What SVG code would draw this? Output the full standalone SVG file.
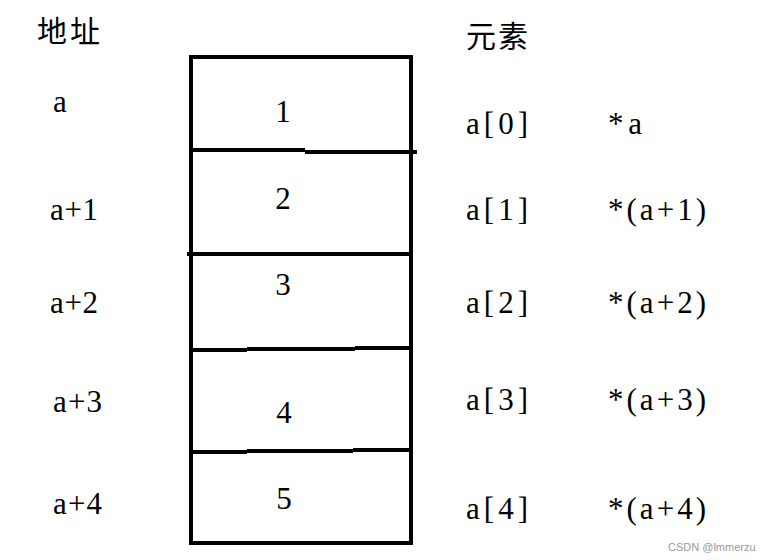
<svg xmlns="http://www.w3.org/2000/svg" width="777" height="560" viewBox="0 0 777 560">
<style>
.t{font-family:"Liberation Serif","Times New Roman",serif;font-size:31px;fill:#000}
.c{font-family:"Noto Sans CJK SC",sans-serif;font-size:30px;fill:#000}
.n{text-anchor:middle}
.ln{stroke:#000;stroke-width:4;fill:none}
.wm{font-family:"Liberation Sans",Arial,sans-serif;font-size:11px;fill:#999}
</style>
<rect width="777" height="560" fill="#fff"/>
<g id="headers">
<text class="c" x="37" y="42" textLength="63">地址</text>
<text class="c" x="466" y="47" textLength="62">元素</text>
</g>
<g id="array">
<rect class="ln" x="191" y="57" width="220" height="486"/>
</g>
<g id="dividers">
<path class="ln" d="M193 150 H305 M305 152 H417"/>
<path class="ln" d="M187 254 H411"/>
<path class="ln" d="M191 350 H247 M247 349 H355 M355 348 H411"/>
<path class="ln" d="M191 452 H247 M247 451 H353 M353 450 H411"/>
</g>
<g id="cell1"><text class="t n" x="283" y="122">1</text></g>
<g id="cell2"><text class="t n" x="283" y="209">2</text></g>
<g id="cell3"><text class="t n" x="283" y="295">3</text></g>
<g id="cell4"><text class="t n" x="284" y="423">4</text></g>
<g id="cell5"><text class="t n" x="284" y="509">5</text></g>
<g id="addresses">
<text class="t" x="53" y="112">a</text>
<text class="t" x="50" y="220" textLength="48">a+1</text>
<text class="t" x="50" y="313" textLength="48">a+2</text>
<text class="t" x="53" y="412" textLength="49">a+3</text>
<text class="t" x="53" y="514" textLength="49">a+4</text>
</g>
<g id="elements">
<text class="t" x="466" y="134" textLength="62">a[0]</text>
<text class="t" x="466" y="220" textLength="62">a[1]</text>
<text class="t" x="466" y="313" textLength="62">a[2]</text>
<text class="t" x="466" y="410" textLength="62">a[3]</text>
<text class="t" x="466" y="519" textLength="62">a[4]</text>
</g>
<g id="pointers">
<text class="t" x="608" y="134" textLength="34">*a</text>
<text class="t" x="608" y="220" textLength="98">*(a+1)</text>
<text class="t" x="608" y="313" textLength="98">*(a+2)</text>
<text class="t" x="608" y="410" textLength="98">*(a+3)</text>
<text class="t" x="608" y="519" textLength="98">*(a+4)</text>
</g>
<text class="wm" x="668" y="551">CSDN @lmmerzu</text>
</svg>
